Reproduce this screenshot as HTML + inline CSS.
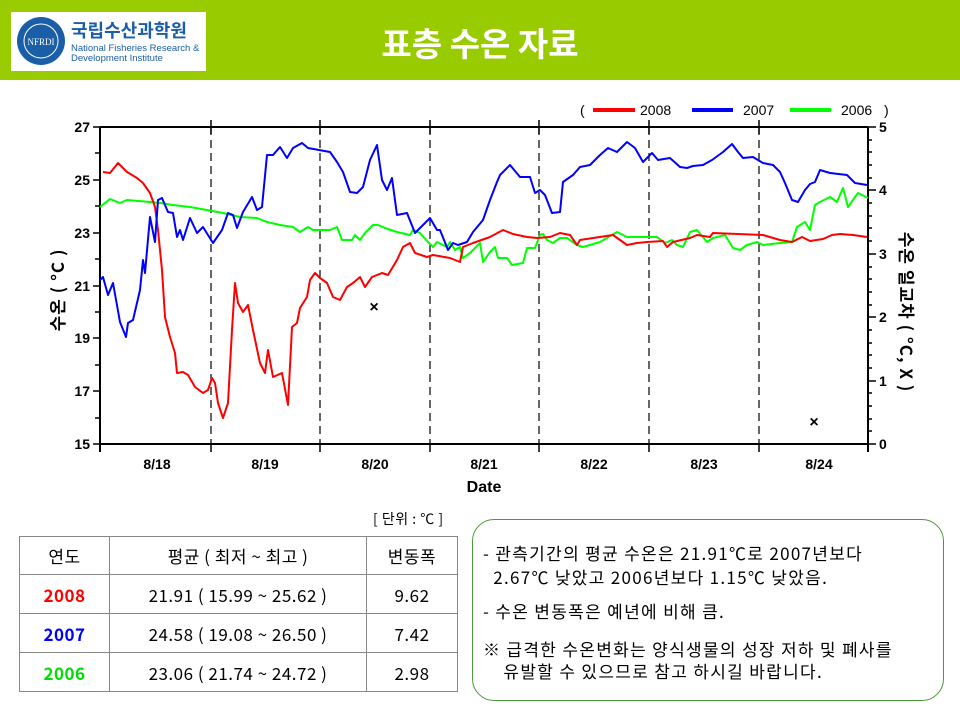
<!DOCTYPE html>
<html><head><meta charset="utf-8"><style>
body{margin:0;width:960px;height:720px;background:#fff;position:relative;overflow:hidden;font-family:"Liberation Sans","Noto Sans CJK KR",sans-serif}
.hdr{position:absolute;left:0;top:0;width:960px;height:80px;background:#99cc00}
.logo{position:absolute;left:11px;top:12px;width:195px;height:59px;background:#fff}
.title{position:absolute;left:300px;top:18px;width:360px;text-align:center;color:#fff;font-size:33px;font-weight:bold;font-family:"Noto Sans CJK KR",sans-serif}
table{position:absolute;left:19px;top:536px;border-collapse:collapse;font-family:"Noto Sans CJK KR",sans-serif;font-size:17px}
td{border:1.5px solid #888;text-align:center;height:37px;padding:0;letter-spacing:0.5px}
.box{position:absolute;left:472px;top:519px;width:470px;height:180px;border:1.5px solid #4a9a3a;border-radius:22px;font-family:"Noto Sans CJK KR",sans-serif;font-size:17px;letter-spacing:1.3px;color:#000}
.box div{position:absolute;left:10px;white-space:nowrap}
</style></head><body>
<div class="hdr"></div>
<div class="logo">
<svg width="195" height="59"><circle cx="30" cy="29" r="24" fill="#1a5ea8"/><circle cx="30" cy="29" r="17" fill="none" stroke="#fff" stroke-width="1"/><text x="30" y="33" font-size="9" fill="#fff" text-anchor="middle" font-family="Liberation Serif">NFRDI</text>
<text x="60" y="25" font-size="18" font-weight="bold" fill="#1a5ea8" font-family="Noto Sans CJK KR,sans-serif">국립수산과학원</text>
<text x="60" y="39" font-size="9.5" fill="#1a5ea8">National Fisheries Research &amp;</text>
<text x="60" y="49" font-size="9.5" fill="#1a5ea8">Development Institute</text></svg></div>
<div class="title">표층 수온 자료</div>
<svg style="position:absolute;left:0;top:0" width="960" height="520" font-family="Liberation Sans,sans-serif">
<g stroke="#000" stroke-width="2" fill="none">
<line x1="100" y1="127" x2="868" y2="127"/><line x1="100" y1="444" x2="868" y2="444"/>
<line x1="100" y1="127" x2="100" y2="452"/><line x1="868" y1="127" x2="868" y2="452"/>
</g>
<g stroke="#000" stroke-width="1.2" stroke-dasharray="8,5">
<line x1="211" y1="127" x2="211" y2="444"/><line x1="320" y1="127" x2="320" y2="444"/><line x1="430" y1="127" x2="430" y2="444"/><line x1="539" y1="127" x2="539" y2="444"/><line x1="649" y1="127" x2="649" y2="444"/><line x1="759" y1="127" x2="759" y2="444"/>
</g>
<g stroke="#000" stroke-width="1.5">
<line x1="211" y1="120" x2="211" y2="134"/><line x1="320" y1="120" x2="320" y2="134"/><line x1="430" y1="120" x2="430" y2="134"/><line x1="539" y1="120" x2="539" y2="134"/><line x1="649" y1="120" x2="649" y2="134"/><line x1="759" y1="120" x2="759" y2="134"/>
<line x1="211" y1="444" x2="211" y2="452"/><line x1="320" y1="444" x2="320" y2="452"/><line x1="430" y1="444" x2="430" y2="452"/><line x1="539" y1="444" x2="539" y2="452"/><line x1="649" y1="444" x2="649" y2="452"/><line x1="759" y1="444" x2="759" y2="452"/>
<line x1="93" y1="127" x2="100" y2="127"/><line x1="95" y1="153" x2="100" y2="153"/><line x1="93" y1="180" x2="100" y2="180"/><line x1="95" y1="206" x2="100" y2="206"/><line x1="93" y1="233" x2="100" y2="233"/><line x1="95" y1="259" x2="100" y2="259"/><line x1="93" y1="286" x2="100" y2="286"/><line x1="95" y1="312" x2="100" y2="312"/><line x1="93" y1="338" x2="100" y2="338"/><line x1="95" y1="365" x2="100" y2="365"/><line x1="93" y1="391" x2="100" y2="391"/><line x1="95" y1="418" x2="100" y2="418"/><line x1="93" y1="444" x2="100" y2="444"/>
<line x1="868" y1="127" x2="876" y2="127"/><line x1="868" y1="190" x2="876" y2="190"/><line x1="868" y1="254" x2="876" y2="254"/><line x1="868" y1="317" x2="876" y2="317"/><line x1="868" y1="381" x2="876" y2="381"/><line x1="868" y1="444" x2="876" y2="444"/>
<line x1="868" y1="140" x2="872" y2="140"/><line x1="868" y1="152" x2="872" y2="152"/><line x1="868" y1="165" x2="872" y2="165"/><line x1="868" y1="178" x2="872" y2="178"/><line x1="868" y1="203" x2="872" y2="203"/><line x1="868" y1="216" x2="872" y2="216"/><line x1="868" y1="228" x2="872" y2="228"/><line x1="868" y1="241" x2="872" y2="241"/><line x1="868" y1="267" x2="872" y2="267"/><line x1="868" y1="279" x2="872" y2="279"/><line x1="868" y1="292" x2="872" y2="292"/><line x1="868" y1="305" x2="872" y2="305"/><line x1="868" y1="330" x2="872" y2="330"/><line x1="868" y1="343" x2="872" y2="343"/><line x1="868" y1="355" x2="872" y2="355"/><line x1="868" y1="368" x2="872" y2="368"/><line x1="868" y1="393" x2="872" y2="393"/><line x1="868" y1="406" x2="872" y2="406"/><line x1="868" y1="419" x2="872" y2="419"/><line x1="868" y1="431" x2="872" y2="431"/>
</g>
<g font-size="14" font-weight="bold" text-anchor="end">
<text x="90" y="132">27</text><text x="90" y="185">25</text><text x="90" y="238">23</text><text x="90" y="291">21</text><text x="90" y="343">19</text><text x="90" y="396">17</text><text x="90" y="449">15</text></g>
<g font-size="14" font-weight="bold"><text x="879" y="132">5</text><text x="879" y="195">4</text><text x="879" y="259">3</text><text x="879" y="322">2</text><text x="879" y="386">1</text><text x="879" y="449">0</text></g>
<g font-size="14" font-weight="bold" text-anchor="middle"><text x="157" y="469">8/18</text><text x="265" y="469">8/19</text><text x="375" y="469">8/20</text><text x="484" y="469">8/21</text><text x="594" y="469">8/22</text><text x="704" y="469">8/23</text><text x="819" y="469">8/24</text><text x="484" y="492" font-size="16">Date</text></g>
<text transform="translate(64,290) rotate(-90)" font-size="17" font-weight="bold" text-anchor="middle" font-family="Noto Sans CJK KR,sans-serif" letter-spacing="1">수온 ( °C )</text>
<text transform="translate(900,312) rotate(90)" font-size="17" font-weight="bold" text-anchor="middle" font-family="Noto Sans CJK KR,sans-serif" letter-spacing="1">수온 일교차 ( °C, X )</text>
<g font-size="14"><text x="580" y="115">(</text><text x="640" y="115">2008</text><text x="743" y="115">2007</text><text x="841" y="115">2006</text><text x="884" y="115">)</text></g>
<line x1="593" y1="110" x2="635" y2="110" stroke="#f00" stroke-width="4"/><line x1="692" y1="110" x2="733" y2="110" stroke="#00f" stroke-width="4"/><line x1="790" y1="110" x2="831" y2="110" stroke="#0f0" stroke-width="4"/>
<g font-size="16" font-weight="bold" text-anchor="middle"><text x="374" y="312">×</text><text x="814" y="427">×</text></g>
<g fill="none" stroke-width="2" stroke-linejoin="round">
<polyline stroke="#0f0" points="100,207 110,199 120,203 127,200 150,202 160,203 173,205 190,207 207,210 223,213 240,217 257,218 267,222 280,225 293,227 300,232 308,227 313,230 330,230 337,227 342,240 352,240 355,235 360,240 365,233 373,225 378,225 385,228 397,232 410,235 413,230 420,233 428,242 433,247 437,242 447,247 450,242 455,250 460,247 463,258 470,253 480,243 483,262 490,252 495,247 498,258 507,258 512,265 523,263 527,248 535,248 540,235 543,234 547,240 553,243 560,238 567,238 577,245 583,247 600,242 617,232 627,237 637,237 657,237 665,243 672,240 677,245 683,247 690,232 697,230 707,242 713,238 725,235 733,248 740,250 747,245 757,242 763,245 780,243 792,242 797,227 805,222 810,230 815,205 820,202 830,197 837,202 843,188 848,207 858,193 868,198"/>
<polyline stroke="#f00" points="103,172 110,173 118,163 127,172 137,178 143,183 150,193 155,207 158,230 162,270 165,317 170,337 175,353 177,373 183,372 188,375 195,387 203,393 208,390 212,378 215,383 218,403 223,418 228,403 232,330 235,283 238,303 243,312 248,305 253,330 260,363 265,373 268,350 273,377 282,373 288,405 292,327 297,323 300,308 307,297 310,280 315,273 320,278 327,283 333,297 340,300 347,287 353,283 360,277 365,287 372,277 382,273 388,275 397,260 403,247 410,243 415,253 427,257 433,255 450,258 460,262 463,247 473,243 490,237 503,230 513,234 527,237 537,238 550,237 560,233 570,235 577,245 580,240 613,235 627,245 637,243 647,242 663,241 667,247 673,242 690,238 697,235 710,237 713,233 763,235 780,240 792,242 802,237 810,241 823,239 832,235 840,234 853,235 867,237"/>
<polyline stroke="#00f" points="100,280 103,277 108,295 113,283 120,322 126,337 128,323 133,320 140,290 143,260 145,273 150,217 155,242 158,200 162,198 168,212 173,213 177,237 180,230 183,240 190,218 197,233 203,227 213,243 222,230 228,213 233,215 237,228 243,212 252,197 257,210 262,207 267,155 273,155 280,147 287,158 293,148 302,143 308,148 330,152 337,162 343,172 350,192 357,193 363,187 370,160 377,145 382,180 387,190 392,178 397,215 407,213 415,233 423,225 430,218 437,230 440,230 448,250 453,243 458,245 467,242 473,232 483,220 490,200 497,182 500,175 510,165 520,177 530,177 535,193 540,190 545,195 552,213 560,212 563,182 573,175 580,167 590,165 600,155 608,148 617,152 627,142 635,148 643,162 652,153 658,160 670,158 680,167 687,168 693,166 703,165 712,160 723,152 732,144 738,152 743,158 753,157 763,163 773,165 780,172 785,183 792,200 798,202 805,190 810,184 815,182 820,170 830,173 847,175 855,183 867,185"/>
</g>
</svg>
<div style="position:absolute;left:373px;top:509px;font-size:14px;letter-spacing:0.5px;font-family:'Noto Sans CJK KR',sans-serif">[ 단위 : ℃ ]</div>
<table>
<tr><td style="width:89px">연도</td><td style="width:256px">평균 ( 최저 ~ 최고 )</td><td style="width:90px">변동폭</td></tr>
<tr><td style="color:#f00;font-weight:bold;height:38px">2008</td><td>21.91 ( 15.99 ~ 25.62 )</td><td>9.62</td></tr>
<tr><td style="color:#00f;font-weight:bold;height:38px">2007</td><td>24.58 ( 19.08 ~ 26.50 )</td><td>7.42</td></tr>
<tr><td style="color:#0d0;font-weight:bold;height:38px">2006</td><td>23.06 ( 21.74 ~ 24.72 )</td><td>2.98</td></tr>
</table>
<div class="box">
<div style="top:20px">- 관측기간의 평균 수온은 21.91℃로 2007년보다</div>
<div style="top:44px">&nbsp;&nbsp;2.67℃ 낮았고 2006년보다 1.15℃ 낮았음.</div>
<div style="top:78px">- 수온 변동폭은 예년에 비해 큼.</div>
<div style="top:116px">※ 급격한 수온변화는 양식생물의 성장 저하 및 폐사를</div>
<div style="top:138px">&nbsp;&nbsp;&nbsp;&nbsp;유발할 수 있으므로 참고 하시길 바랍니다.</div>
</div>
</body></html>
